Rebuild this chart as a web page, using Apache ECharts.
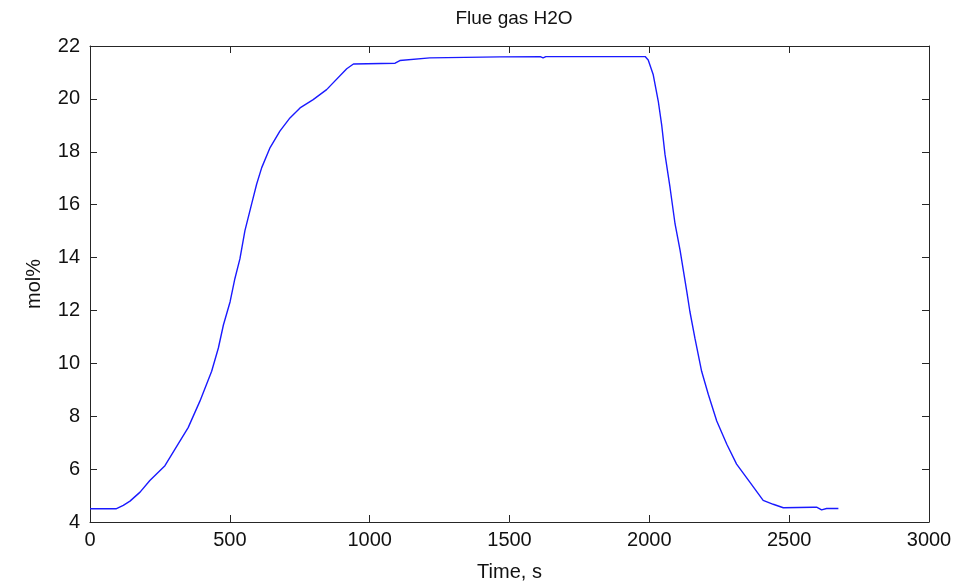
<!DOCTYPE html>
<html>
<head>
<meta charset="utf-8">
<script src="https://cdn.jsdelivr.net/npm/echarts@6/dist/echarts.min.js"></script>
<style>html,body{margin:0;padding:0;background:#fff}#c{width:971px;height:587px}</style>
</head>
<body>
<div id="c"></div>
<script>
const titleText = "Flue gas H2O";
const xName = "Time, s";
const yName = "mol%";
const timeS = [0, 93, 119, 143, 179, 214, 268, 322, 351, 393, 435, 459, 477, 501, 518, 536, 554, 578, 596, 614, 644, 679, 715, 751, 798, 846, 918, 942, 1091, 1108, 1215, 1466, 1610, 1620, 1630, 1985, 1996, 2014, 2032, 2044, 2056, 2074, 2092, 2110, 2134, 2145, 2163, 2187, 2211, 2241, 2277, 2312, 2360, 2407, 2443, 2479, 2586, 2598, 2616, 2634, 2676];
const h2o = [4.5, 4.5, 4.63, 4.79, 5.13, 5.57, 6.13, 7.07, 7.57, 8.57, 9.7, 10.58, 11.45, 12.33, 13.2, 13.95, 15.02, 16.03, 16.78, 17.4, 18.16, 18.78, 19.28, 19.66, 19.97, 20.35, 21.14, 21.32, 21.35, 21.45, 21.55, 21.59, 21.6, 21.55, 21.6, 21.6, 21.47, 20.91, 19.91, 19.03, 17.9, 16.65, 15.27, 14.27, 12.71, 11.96, 10.95, 9.7, 8.82, 7.82, 6.94, 6.19, 5.5, 4.82, 4.67, 4.54, 4.56, 4.56, 4.46, 4.51, 4.51];
const xTicks = [0, 500, 1000, 1500, 2000, 2500, 3000];
const yTicks = [4, 6, 8, 10, 12, 14, 16, 18, 20, 22];

const font = "'Liberation Sans', Arial, sans-serif";
const axisCol = '#262626';
const chart = echarts.init(document.getElementById('c'), null, {renderer: 'canvas'});
const common = {
  axisLine: {show: true, onZero: false, lineStyle: {color: axisCol, width: 1}},
  axisTick: {show: true, inside: true, length: 7, lineStyle: {color: axisCol}},
  splitLine: {show: false}
};
chart.setOption({
  animation: false,
  backgroundColor: '#fff',
  title: {text: titleText, left: 509, top: 4, textAlign: 'center',
    textStyle: {fontFamily: font, fontSize: 19, fontWeight: 'normal', color: '#111'}},
  grid: {left: 90, right: 42, top: 46, bottom: 62, containLabel: false},
  xAxis: [
    Object.assign({type: 'value', min: xTicks[0], max: xTicks[xTicks.length - 1], interval: 500,
      name: xName, nameLocation: 'middle', nameGap: 40,
      nameTextStyle: {fontFamily: font, fontSize: 20, color: '#111'},
      axisLabel: {fontFamily: font, fontSize: 20, color: '#111', margin: 8, formatter: v => String(v)}}, common),
    Object.assign({type: 'value', position: 'top', min: xTicks[0], max: xTicks[xTicks.length - 1], interval: 500,
      axisLabel: {show: false}}, common)
  ],
  yAxis: [
    Object.assign({type: 'value', min: yTicks[0], max: yTicks[yTicks.length - 1], interval: 2,
      name: yName, nameLocation: 'middle', nameGap: 46,
      nameTextStyle: {fontFamily: font, fontSize: 20, color: '#111'},
      axisLabel: {fontFamily: font, fontSize: 20, color: '#111', margin: 10, formatter: v => String(v)}}, common),
    Object.assign({type: 'value', position: 'right', min: yTicks[0], max: yTicks[yTicks.length - 1], interval: 2,
      axisLabel: {show: false}}, common)
  ],
  series: [{
    type: 'line',
    data: timeS.map((t, i) => [t, h2o[i]]),
    showSymbol: false,
    lineStyle: {color: '#1a1aff', width: 1.4},
    xAxisIndex: 0, yAxisIndex: 0
  }]
});
</script>
</body>
</html>
